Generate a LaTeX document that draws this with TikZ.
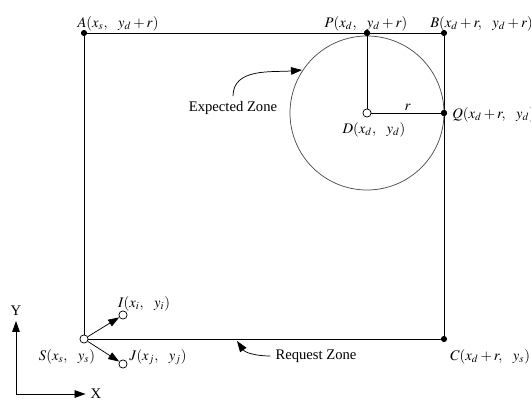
\documentclass[tikz,border=0pt]{standalone}
\usepackage{mathptmx}
\usepackage[no-math]{fontspec}
\setmainfont{Liberation Serif}
\usepackage{tikz}
\usetikzlibrary{positioning,arrows.meta}
\newcommand{\gp}{\hspace{6pt}}

\begin{document}
\begin{tikzpicture}[x=0.024cm, y=-0.024cm, font=\normalsize,
  dot/.style={circle, fill=black, inner sep=0pt, minimum size=4.2pt},
  hole/.style={circle, draw, fill=white, inner sep=0pt, minimum size=5.6pt, line width=0.5pt},
  lbl/.style={anchor=base, inner sep=0pt},
  arr/.style={-{Triangle[length=7.5pt, width=5.2pt]}, line width=0.5pt}]
\useasboundingbox (0,0) rectangle (531,401);
% corners and points
\node[dot] (A) at (84,33) {};
\node[dot] (P) at (367,33) {};
\node[dot] (B) at (444,33) {};
\node[dot] (Q) at (444,113) {};
\node[dot] (C) at (444,339) {};
\node[hole] (D) at (367,113) {};
\node[hole] (S) at (84,339) {};
\node[hole] (I) at (123,315) {};
\node[hole] (J) at (123,364) {};
% request zone
\draw[line width=0.6pt] (S) -- (A.center) -- (B.center) -- (C.center) -- (S);
% expected zone
\draw[line width=0.5pt, gray!60!black] (367,113) circle[radius=77];
\draw[line width=0.6pt] (P.center) -- (D);
\draw[line width=0.6pt] (D) -- node[lbl, above=1.5pt, pos=0.5]{$r$} (Q.center);
\node[dot] at (P) {};
\node[dot] at (Q) {};
% labels
\node[lbl] (la) at (118,27) {$A(x_s,\gp y_d+r)$};
\node[lbl] (lp) at (366,27) {$P(x_d,\gp y_d+r)$};
\node[lbl, anchor=base west] (lb) at (430,27) {$B(x_d+r,\gp y_d+r)$};
\node[lbl, anchor=base west] (lq) at (452,118) {$Q(x_d+r,\gp y_d)$};
\node[lbl] (ld) at (374,133) {$D(x_d,\gp y_d)$};
\node[lbl, anchor=base west] (lc) at (450,360) {$C(x_d+r,\gp y_s)$};
\node[lbl] (ls) at (67,360) {$S(x_s,\gp y_s)$};
\node[lbl] (li) at (144,307) {$I(x_i,\gp y_i)$};
\node[lbl] (lj) at (158,360) {$J(x_j,\gp y_j)$};
% zone names
\node (ez) at (233,108) {Expected Zone};
\coordinate (ezt) at (302,70);
\draw[arr] (ez.north) to[out=90, in=185] (ezt);
\node (rz) at (316,356) {Request Zone};
\coordinate (rzt) at (237,341);
\draw[arr] (rz.west) to[out=180, in=-55] (rzt);
% moves from S
\draw[arr] (S) -- (I);
\draw[arr] (S) -- (J);
% axes
\coordinate (O) at (16,394);
\node (Y) at (16,311) {Y};
\node (X) at (96,394) {X};
\draw[arr] (O) -- (Y.south);
\draw[arr] (O) -- (X.west);
\end{tikzpicture}
\end{document}
